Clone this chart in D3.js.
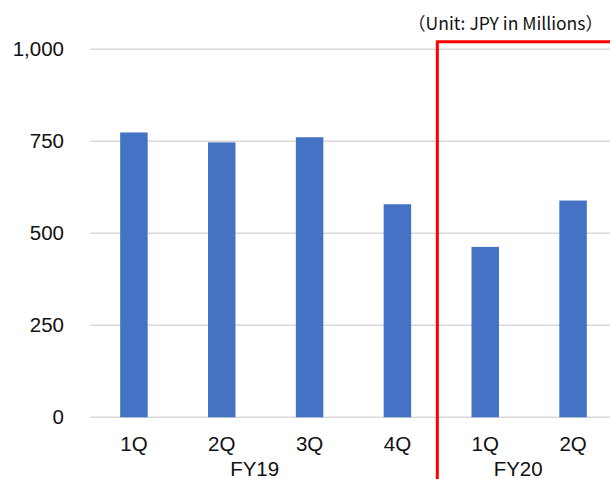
<!DOCTYPE html>
<html>
<head>
<meta charset="utf-8">
<script src="https://cdn.jsdelivr.net/npm/d3@7"></script>
<style>
  body { margin: 0; background: #fff; overflow: hidden; }
  .tick-label { font-family: "Liberation Sans", Arial, sans-serif; font-size: 20.5px; fill: #111; }
  .unit-label { font-family: "Noto Sans CJK JP", "Noto Sans", sans-serif; font-size: 17.5px; fill: #111; }
</style>
</head>
<body>
<div id="wrapper"></div>
<script>
// data
const fiscalYears = ["FY19", "FY19", "FY19", "FY19", "FY20", "FY20"];
const quarters = ["1Q", "2Q", "3Q", "4Q", "1Q", "2Q"];
const values = [774, 747, 761, 579, 463, 589];
const yTicks = [0, 250, 500, 750, 1000];
const unitText = "（Unit: JPY in Millions）";

function drawChart() {
  const dimensions = { width: 610, height: 479 };

  const keys = quarters.map((q, i) => fiscalYears[i] + " " + q);
  const dataset = keys.map((k, i) => ({
    key: k,
    year: fiscalYears[i],
    quarter: quarters[i],
    value: values[i],
  }));

  const svg = d3
    .select("#wrapper")
    .append("svg")
    .attr("width", dimensions.width)
    .attr("height", dimensions.height);

  // scales
  const xScale = d3
    .scaleBand()
    .domain(keys)
    .range([90, 617])
    .paddingInner(0.687)
    .paddingOuter(0.3435);

  const yScale = d3.scaleLinear().domain([0, 1000]).range([417.3, 49.3]);

  // gridlines
  svg
    .append("g")
    .selectAll("line")
    .data(yTicks)
    .join("line")
    .attr("x1", 90)
    .attr("x2", 620)
    .attr("y1", (d) => yScale(d))
    .attr("y2", (d) => yScale(d))
    .attr("stroke", "#d9d9d9")
    .attr("stroke-width", 1.5);

  // y tick labels
  svg
    .append("g")
    .selectAll("text")
    .data(yTicks)
    .join("text")
    .attr("class", "tick-label")
    .attr("x", 64)
    .attr("y", (d) => yScale(d))
    .attr("dy", "0.35em")
    .attr("text-anchor", "end")
    .text((d) => d3.format(",")(d));

  // bars
  svg
    .append("g")
    .selectAll("rect")
    .data(dataset)
    .join("rect")
    .attr("x", (d) => xScale(d.key))
    .attr("width", xScale.bandwidth())
    .attr("y", (d) => yScale(d.value))
    .attr("height", (d) => yScale(0) - yScale(d.value))
    .attr("fill", "#4472c4");

  // quarter labels
  svg
    .append("g")
    .selectAll("text")
    .data(dataset)
    .join("text")
    .attr("class", "tick-label")
    .attr("x", (d) => xScale(d.key) + xScale.bandwidth() / 2)
    .attr("y", 451)
    .attr("text-anchor", "middle")
    .text((d) => d.quarter);

  // fiscal year labels
  const years = d3.groups(dataset, (d) => d.year);
  svg
    .append("g")
    .selectAll("text")
    .data(years)
    .join("text")
    .attr("class", "tick-label")
    .attr("x", (d) => {
      const first = d[1][0].key;
      const last = d[1][d[1].length - 1].key;
      return (xScale(first) + xScale(last) + xScale.bandwidth()) / 2 - 11;
    })
    .attr("y", 476)
    .attr("text-anchor", "middle")
    .text((d) => d[0]);

  // red bracket around FY20
  const step = xScale.step();
  const splitX = xScale(keys[4]) - step * xScale.paddingInner() / 2 - 4;
  svg
    .append("path")
    .attr("d", `M${splitX},${dimensions.height + 5}V41.7H${dimensions.width + 5}`)
    .attr("fill", "none")
    .attr("stroke", "#ff0000")
    .attr("stroke-width", 3);

  // unit label
  svg
    .append("text")
    .attr("class", "unit-label")
    .attr("x", 603)
    .attr("y", 30)
    .attr("text-anchor", "end")
    .text(unitText);
}
drawChart();
</script>
</body>
</html>
